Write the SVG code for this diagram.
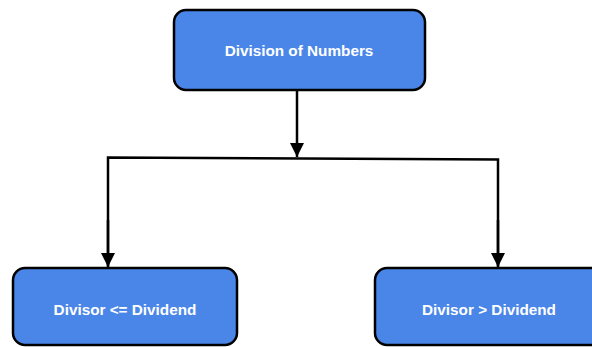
<svg xmlns="http://www.w3.org/2000/svg" width="592" height="347" viewBox="0 0 592 347">
<style>
.node{fill:#4a86e8;stroke:#000;stroke-width:2.5}
.lbl{font-family:"Liberation Sans",Arial,sans-serif;font-weight:bold;font-size:15.3px;fill:#fff;text-anchor:middle;dominant-baseline:central}
.edge{fill:none;stroke:#000;stroke-width:2.5}
</style>
<defs>
<marker id="arr" viewBox="0 0 10 10" refX="10" refY="5" markerWidth="16" markerHeight="14" markerUnits="userSpaceOnUse" orient="auto">
<path d="M0,0 L10,5 L0,10 z" fill="#000"/>
</marker>
</defs>
<g id="connectors">
<path class="edge" d="M297,91 L297,157" marker-end="url(#arr)"/>
<path class="edge" d="M108,266 L108,157.5 L498,159.5 L498,266"/>
<path class="edge" d="M108,220 L108,267" marker-end="url(#arr)"/>
<path class="edge" d="M498,220 L498,267" marker-end="url(#arr)"/>
</g>
<g id="n1">
<rect class="node" x="174" y="10" width="251" height="80" rx="12"/>
<text class="lbl" x="299" y="50">Division of Numbers</text>
</g>
<g id="n2">
<rect class="node" x="13" y="268" width="224" height="77" rx="12"/>
<text class="lbl" x="125" y="309">Divisor &lt;= Dividend</text>
</g>
<g id="n3">
<rect class="node" x="375" y="268" width="228" height="77" rx="12"/>
<text class="lbl" x="489" y="309">Divisor &gt; Dividend</text>
</g>
</svg>
